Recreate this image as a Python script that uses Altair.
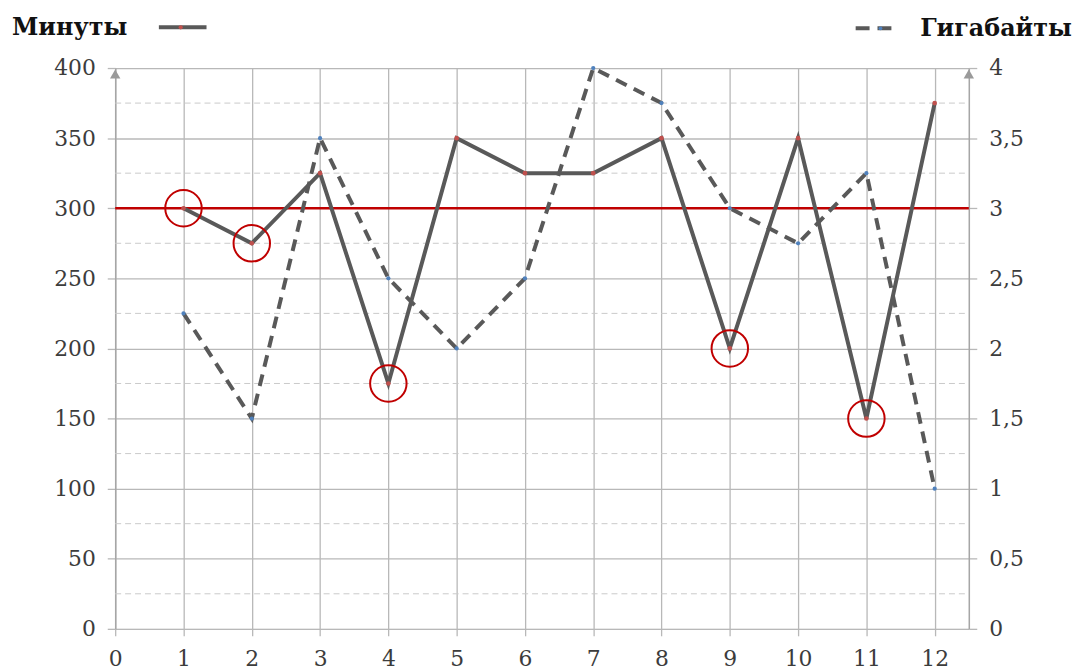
import altair as alt
import pandas as pd

months = [1, 2, 3, 4, 5, 6, 7, 8, 9, 10, 11, 12]
minutes = [300, 275, 325, 175, 350, 325, 325, 350, 200, 350, 150, 375]
gigabytes = [2.25, 1.5, 3.5, 2.5, 2.0, 2.5, 4.0, 3.75, 3.0, 2.75, 3.25, 1.0]
limit_minutes = 300
circled_months = [1, 2, 4, 9, 11]
minor_grid = [25, 75, 125, 175, 225, 275, 325, 375]
left_ticks = [0, 50, 100, 150, 200, 250, 300, 350, 400]
right_ticks = [0, 0.5, 1, 1.5, 2, 2.5, 3, 3.5, 4]
x_ticks = list(range(0, 13))

df = pd.DataFrame({"m": months, "min": minutes, "gb": gigabytes})
circ = df[df["m"].isin(circled_months)]

FONT = "DejaVu Serif"
GRID = "#b8b8b8"
LABEL = "#3c3c3c"
LFS = 22

xscale = alt.Scale(domain=[0, 12.5], nice=False, zero=False)
xaxis = alt.Axis(values=x_ticks, grid=True, gridColor=GRID, gridWidth=1.3,
                 tickSize=7, tickColor=GRID, tickWidth=1.3, domain=False,
                 labelFont=FONT, labelFontSize=LFS, labelColor=LABEL,
                 labelPadding=13, labelFlush=False, title=None, labelAngle=0)
yscale = alt.Scale(domain=[0, 400], nice=False)
y2scale = alt.Scale(domain=[0, 4], nice=False)
yaxis = alt.Axis(
    values=left_ticks, grid=True, gridColor=GRID, gridWidth=1.3,
    tickSize=8, tickColor=GRID, tickWidth=1.3,
    domain=True, domainColor="#a6a6a6", domainWidth=1.5,
    labelFont=FONT, labelFontSize=LFS, labelColor=LABEL, labelPadding=12,
    labelFlush=False, title=None, orient="left")


def X(field="m"):
    return alt.X(field, type="quantitative", scale=xscale, axis=xaxis)


def Y(field):
    return alt.Y(field, type="quantitative", scale=yscale, axis=yaxis)


grid_df = pd.DataFrame({"v": minor_grid})
minor = alt.Chart(grid_df).mark_rule(color="#cacaca", strokeWidth=1, strokeDash=[6, 4]).encode(
    y=Y("v"),
    x=alt.datum(0, type="quantitative", scale=xscale, axis=xaxis),
    x2=alt.datum(12.5),
)

red = alt.Chart(pd.DataFrame({"v": [limit_minutes]})).mark_rule(color="#c00000", strokeWidth=2.6).encode(
    y=Y("v"),
    x=alt.datum(0, type="quantitative", scale=xscale, axis=xaxis),
    x2=alt.datum(12.5),
)

min_line = alt.Chart(df).mark_line(
    color="#595959", strokeWidth=4, strokeJoin="miter",
    point=alt.OverlayMarkDef(filled=True, color="#c0504d", size=22, opacity=1),
).encode(x=X(), y=Y("min"))

circles = alt.Chart(circ).mark_point(shape="circle", filled=False, color="#c00000",
                                     strokeWidth=2, size=1350, opacity=1).encode(
    x=X(), y=Y("min"),
)

arrows = alt.Chart(pd.DataFrame({"ax": [0, 12.5], "ay": [400, 400]})).mark_point(
    shape="triangle-up", filled=True, color="#9a9a9a", size=110, yOffset=6, opacity=1
).encode(x=X("ax"), y=Y("ay"))

left = alt.layer(minor, red, min_line, circles, arrows)

gb_line = alt.Chart(df).mark_line(
    color="#595959", strokeWidth=4, strokeDash=[12, 8],
    point=alt.OverlayMarkDef(filled=True, color="#4f81bd", size=18, opacity=1),
).encode(
    x=X(),
    y=alt.Y("gb:Q", scale=y2scale, axis=alt.Axis(
        values=right_ticks, grid=False,
        tickSize=8, tickColor=GRID, tickWidth=1.3,
        domain=True, domainColor="#a6a6a6", domainWidth=1.5,
        labelFont=FONT, labelFontSize=LFS, labelColor=LABEL, labelPadding=12,
        labelFlush=False,
        labelExpr="replace(format(datum.value, ''), '.', ',')",
        title=None, orient="right")),
)

# legend
leg_min_text = alt.Chart(pd.DataFrame({"t": ["Минуты"]})).mark_text(
    font=FONT, fontSize=24, fontWeight="bold", color="#111111", align="left", baseline="alphabetic"
).encode(text="t:N", x=alt.value(-104), y=alt.value(-33))
leg_min_line = alt.Chart(pd.DataFrame({"a": [1]})).mark_rule(color="#595959", strokeWidth=4).encode(
    x=alt.value(44), x2=alt.value(92), y=alt.value(-41))
leg_min_dot = alt.Chart(pd.DataFrame({"a": [1]})).mark_point(filled=True, color="#c0504d", size=18, opacity=1).encode(
    x=alt.value(66), y=alt.value(-41))
leg_gb_text = alt.Chart(pd.DataFrame({"t": ["Гигабайты"]})).mark_text(
    font=FONT, fontSize=24, fontWeight="bold", color="#111111", align="left", baseline="alphabetic"
).encode(text="t:N", x=alt.value(811), y=alt.value(-32))
leg_gb_line = alt.Chart(pd.DataFrame({"a": [1]})).mark_rule(color="#595959", strokeWidth=4, strokeDash=[14, 8]).encode(
    x=alt.value(746), x2=alt.value(790), y=alt.value(-40))
leg_gb_dot = alt.Chart(pd.DataFrame({"a": [1]})).mark_point(filled=True, color="#4f81bd", size=14, opacity=1).encode(
    x=alt.value(771), y=alt.value(-40))

chart = alt.layer(
    left, gb_line, leg_min_line, leg_min_dot, leg_min_text, leg_gb_line, leg_gb_dot, leg_gb_text
).resolve_scale(y="independent").properties(
    width=860, height=565,
    autosize=alt.AutoSizeParams(type="none"),
    padding={"left": 108, "top": 58, "right": 110, "bottom": 40},
).configure_view(stroke=None).configure(background="white")

chart.save("out.html", embed_options={"renderer": "svg", "actions": False})
